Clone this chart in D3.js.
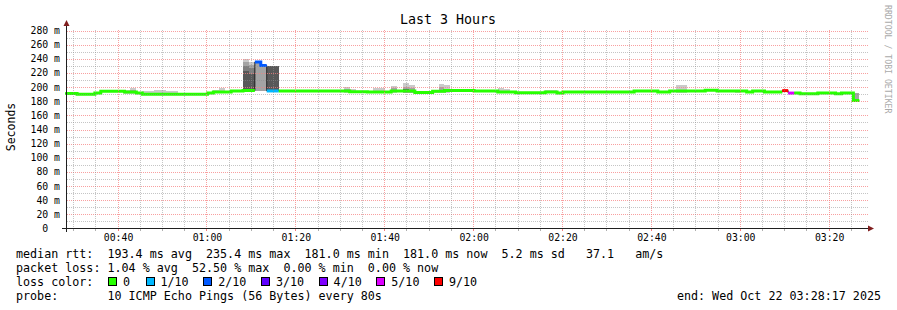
<!DOCTYPE html>
<html>
<head>
<meta charset="utf-8">
<script src="https://cdn.jsdelivr.net/npm/d3@7"></script>
<style>
html, body { margin: 0; padding: 0; background: #fff; }
svg { display: block; }
text { font-family: "DejaVu Sans Mono", monospace; white-space: pre; }
</style>
</head>
<body>
<div id="chart"></div>
<script>
// time window of the graph and the 80s rrd steps
const graphStart = new Date(2025, 9, 22, 0, 28, 17);
const graphEnd = new Date(2025, 9, 22, 3, 28, 17);
const stepOrigin = new Date(2025, 9, 22, 0, 28, 6, 500);
const stepSeconds = 80;

// median rtt per step (ms)
const medianRtt = [
  191, 191, 190, 190, 190, 191.5, 194, 194, 194, 194,
  193, 193, 191.5, 190, 190, 190, 190, 190, 190, 190,
  190, 190, 190, 190, 191.5, 193, 193, 193, 194.5, 194.5,
  195, 195, 235.4, 230.5, 194.5, 194.5, 194.5, 194.5, 194.5, 194.5,
  194.5, 194.5, 194.5, 194.5, 194.5, 194.5, 194.5, 194.5, 193.5, 193.5,
  193.5, 193, 193, 193, 193, 194.5, 194.5, 194.5, 194.5, 192.5,
  192.5, 192.5, 194, 194, 195, 195, 195, 195, 195, 194.5,
  194.5, 194.5, 194.5, 193, 193, 193, 192, 192, 192, 192,
  192, 193, 193, 191.5, 193, 193, 193, 193, 193, 193,
  193, 193, 193, 193, 193, 193, 194.3, 194.3, 194.3, 194.3,
  193, 193, 194.5, 194.5, 194.5, 194.5, 194.5, 194.5, 195.5, 195.5,
  194.5, 194.5, 194.5, 194.5, 194.5, 193, 194.5, 194.5, 193, 193,
  193, 195, 191.5, 191.5, 190.5, 190.5, 190.5, 191.5, 191.5, 191.5,
  190.5, 191.5, 191.5, 181
];

// steps with lost pings (out of 10)
const lossSteps = [32, 33, 34, 35, 121, 122];
const lossCounts = [2, 2, 1, 1, 9, 5];

// smoke bands: step, low ms, high ms, shade level (1 = lightest)
const smokeStep  = [10, 10, 11, 11, 13, 14, 15, 16, 17, 18, 25, 26, 27,
  30, 30, 30, 30, 31, 31, 31, 31, 32, 33, 34, 35,
  39, 40, 44, 45, 47, 47, 48, 52, 53, 55, 55, 57, 57, 57, 58, 58,
  62, 63, 63, 64, 67, 73, 74, 81, 82, 103, 104, 113, 133];
const smokeLow   = [190, 192, 190, 192, 189, 189, 189, 189, 189, 189, 191, 191, 191,
  195, 195, 195, 195, 195, 195, 195, 195, 194, 194, 194, 194,
  193, 193, 193, 193, 192, 193, 192, 192, 192, 192, 193, 191, 192, 193, 191, 192,
  192, 192, 193, 192, 193, 191, 191, 191, 191, 192, 192, 192, 181];
const smokeHigh  = [196.5, 195, 199, 196, 194, 194, 196, 196, 194.5, 194, 196.5, 198, 195,
  240, 236, 230.5, 222.5, 235, 231, 227, 219, 234, 229.5, 230.5, 229.5,
  196.5, 196.5, 196.5, 196.5, 199.5, 197, 197, 198, 198, 201, 198, 205.5, 200, 197.5, 202.7, 199,
  196.5, 204.5, 200, 203, 197, 198.5, 197, 195.5, 195.5, 202.5, 202.5, 196.5, 191.5];
const smokeShade = [1, 2, 1, 2, 1, 1, 1, 1, 1, 1, 1, 1, 1,
  1, 2, 3, 4, 1, 2, 3, 4, 2, 2, 4, 4,
  1, 1, 1, 1, 1, 2, 1, 1, 1, 1, 2, 1, 2, 4, 1, 2,
  1, 1, 2, 1, 1, 1, 1, 1, 1, 1, 1, 1, 2];
const shadeColors = ['#cacaca', '#a4a4a4', '#7e7e7e', '#585858', '#323232'];

const yTicks = [0, 20, 40, 60, 80, 100, 120, 140, 160, 180, 200, 220, 240, 260, 280];

const lossLabels = ['0', '1/10', '2/10', '3/10', '4/10', '5/10', '9/10'];
const lossColors = ['#26ff00', '#00b8ff', '#0059ff', '#5e00ff', '#7e00ff', '#dd00ff', '#ff0000'];

const statLines = [
  'median rtt:  193.4 ms avg  235.4 ms max  181.0 ms min  181.0 ms now  5.2 ms sd   37.1   am/s',
  'packet loss: 1.04 % avg  52.50 % max  0.00 % min  0.00 % now'
];
const probeText = 'probe:       10 ICMP Echo Pings (56 Bytes) every 80s';
const endText = 'end: Wed Oct 22 03:28:17 2025';

const W = 897, H = 310;
const svg = d3.select('#chart').append('svg')
  .attr('width', W).attr('height', H);

const x = d3.scaleTime().domain([graphStart, graphEnd]).range([66, 866]);
const y = d3.scaleLinear().domain([0, 280]).range([228.5, 30.5]);

const stepTime = i => new Date(stepOrigin.getTime() + i * stepSeconds * 1000);

// loss count -> colour class
function lossClass(n) {
  if (n >= 9) return 6;
  if (n >= 5) return 5;
  return n;
}
const lossByStep = medianRtt.map(() => 0);
lossSteps.forEach((s, i) => { lossByStep[s] = lossCounts[i]; });

// smoke
const smoke = smokeStep.map((s, i) => ({ s, lo: smokeLow[i], hi: smokeHigh[i], shade: smokeShade[i] }))
  .sort((a, b) => a.shade - b.shade);
svg.append('g').attr('shape-rendering', 'crispEdges')
  .selectAll('rect').data(smoke).enter().append('rect')
    .attr('x', d => x(stepTime(d.s)))
    .attr('width', d => x(stepTime(d.s + 1)) - x(stepTime(d.s)))
    .attr('y', d => y(d.hi))
    .attr('height', d => y(d.lo) - y(d.hi))
    .attr('fill', d => shadeColors[d.shade - 1]);

// median as step line: two points per step
const pts = [];
medianRtt.forEach((v, i) => {
  const c = lossClass(lossByStep[i]);
  pts.push({ t: stepTime(i), v, c });
  pts.push({ t: stepTime(i + 1), v, c });
});

svg.append('path')
  .attr('d', d3.line().x(d => x(d.t)).y(d => y(d.v))(pts))
  .attr('fill', 'none').attr('stroke', '#202020').attr('stroke-width', 1);

lossColors.forEach((col, c) => {
  const line = d3.line().defined(d => d.c === c).x(d => x(d.t)).y(d => y(d.v));
  svg.append('path')
    .attr('d', line(pts))
    .attr('fill', 'none').attr('stroke', col).attr('stroke-width', 3);
});

// grid on top (5 min minor, 20 min major; 10 ms minor, 20 ms major)
const minorCol = 'rgba(140,140,140,0.5)';
const majorCol = 'rgba(245,128,128,0.75)';
const grid = svg.append('g').attr('shape-rendering', 'crispEdges');
y.ticks(28).filter(v => v > 0).forEach(v => {
  const major = yTicks.includes(v);
  const py = Math.round(y(v)) + 0.5;
  grid.append('line')
    .attr('x1', 67).attr('x2', 868).attr('y1', py).attr('y2', py)
    .attr('stroke', major ? majorCol : minorCol)
    .attr('stroke-dasharray', '1,1');
});
d3.timeMinute.every(5).range(graphStart, graphEnd).forEach(t => {
  const major = (t.getHours() * 60 + t.getMinutes()) % 20 === 0;
  const px = Math.floor(x(t)) + 0.5;
  grid.append('line')
    .attr('x1', px).attr('x2', px).attr('y1', 30).attr('y2', 228)
    .attr('stroke', major ? majorCol : minorCol)
    .attr('stroke-dasharray', '1,1');
  grid.append('line')
    .attr('x1', px).attr('x2', px).attr('y1', 229).attr('y2', 231)
    .attr('stroke', major ? '#f08080' : '#b0b0b0');
});

// axes
const axis = svg.append('g').attr('shape-rendering', 'crispEdges');
axis.append('line').attr('x1', 62).attr('x2', 870).attr('y1', 228.5).attr('y2', 228.5)
  .attr('stroke', '#1f1f1f');
axis.append('line').attr('x1', 66.5).attr('x2', 66.5).attr('y1', 232).attr('y2', 24)
  .attr('stroke', '#1f1f1f');
svg.append('path').attr('d', 'M868,225.5L874,228.5L868,231.5Z').attr('fill', '#801f1f');
svg.append('path').attr('d', 'M63.5,26L66.5,20L69.5,26Z').attr('fill', '#801f1f');

// y labels
svg.append('g').selectAll('text').data(yTicks).enter().append('text')
  .attr('x', 60).attr('y', d => y(d) + 3.5)
  .attr('text-anchor', 'end').attr('font-size', '9.8px')
  .text(d => d === 0 ? '0  ' : d + ' m');

// x labels
svg.append('g').selectAll('text').data(x.ticks(d3.timeMinute.every(20))).enter().append('text')
  .attr('x', d => x(d) + 0.5).attr('y', 241)
  .attr('text-anchor', 'middle').attr('font-size', '9.8px')
  .text(d3.timeFormat('%H:%M'));

// title, axis label, watermark
svg.append('text').attr('x', 448).attr('y', 24).attr('text-anchor', 'middle')
  .attr('font-size', '13.3px').text('Last 3 Hours');
svg.append('text').attr('transform', 'translate(15,127) rotate(-90)')
  .attr('text-anchor', 'middle').attr('font-size', '11.5px').text('Seconds');
svg.append('text').attr('transform', 'translate(885,5) rotate(90)')
  .attr('font-size', '8.2px').attr('fill', '#aaaaaa').text('RRDTOOL / TOBI OETIKER');

// legend
const fs = '11.7px';
statLines.forEach((s, i) => {
  svg.append('text').attr('x', 16).attr('y', 258 + i * 14).attr('font-size', fs).text(s);
});
svg.append('text').attr('x', 16).attr('y', 286).attr('font-size', fs).text('loss color:');
const boxX = [108, 145.5, 203.2, 260.9, 318.6, 376.3, 434];
lossLabels.forEach((lab, i) => {
  svg.append('rect').attr('x', boxX[i] + 0.5).attr('y', 277.5).attr('width', 8).attr('height', 8)
    .attr('fill', lossColors[i]).attr('stroke', '#000').attr('shape-rendering', 'crispEdges');
  svg.append('text').attr('x', boxX[i] + 15).attr('y', 286).attr('font-size', fs).text(lab);
});
svg.append('text').attr('x', 16).attr('y', 300).attr('font-size', fs).text(probeText);
svg.append('text').attr('x', 881).attr('y', 300).attr('text-anchor', 'end').attr('font-size', fs).text(endText);
</script>
</body>
</html>
